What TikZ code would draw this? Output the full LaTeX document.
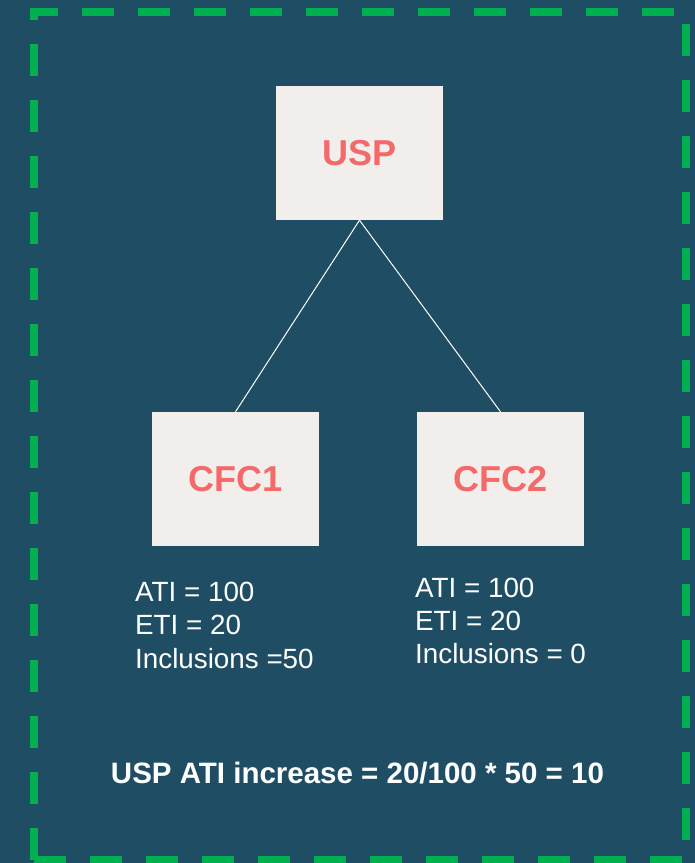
\documentclass[tikz,border=0pt]{standalone}
\usepackage{fontspec}
\setmainfont{Liberation Sans}
\definecolor{bgteal}{HTML}{1F4E64}
\definecolor{framegreen}{HTML}{00B050}
\definecolor{boxfill}{HTML}{F2EEEB}
\definecolor{boxtext}{HTML}{F46A6A}
\begin{document}
\begin{tikzpicture}[x=1pt,y=-1pt,
  entity/.style={fill=boxfill, minimum width=167pt, minimum height=134pt,
    inner sep=0pt, text=boxtext, font=\fontsize{36}{43}\selectfont\bfseries},
  fact/.style={anchor=base west, inner sep=0pt, text=white,
    font=\fontsize{27.8}{33}\selectfont},
  summary/.style={anchor=base, inner sep=0pt, text=white,
    font=\fontsize{29.5}{35}\selectfont\bfseries},
  link/.style={draw=white, line width=1pt},
  frame/.style={draw=framegreen, line width=8pt, dash pattern=on 32pt off 24pt}]
  % canvas
  \fill[bgteal] (0,0) rectangle (695,863);
  \useasboundingbox (0,0) rectangle (695,863);
  % dashed outer frame
  \draw[frame] (34,860) -- (34,12) -- (686,12) -- (686,860) -- cycle;
  % entities
  \node[entity] (usp)  at (359.5,153) {USP};
  \node[entity] (cfc1) at (235.5,479) {CFC1};
  \node[entity] (cfc2) at (500.5,479) {CFC2};
  % ownership links
  \draw[link] (usp.south) -- (cfc1.north);
  \draw[link] (usp.south) -- (cfc2.north);
  % figures for CFC1
  \node[fact] (c1ati) at (135,601) {ATI = 100};
  \node[fact] (c1eti) at (135,634.5) {ETI = 20};
  \node[fact] (c1inc) at (135,668) {Inclusions =50};
  % figures for CFC2
  \node[fact] (c2ati) at (415,597) {ATI = 100};
  \node[fact] (c2eti) at (415,630) {ETI = 20};
  \node[fact] (c2inc) at (415,663.5) {Inclusions = 0};
  % result
  \node[summary] (result) at (357.5,783.5) {USP ATI increase = 20/100 * 50 = 10};
\end{tikzpicture}
\end{document}
